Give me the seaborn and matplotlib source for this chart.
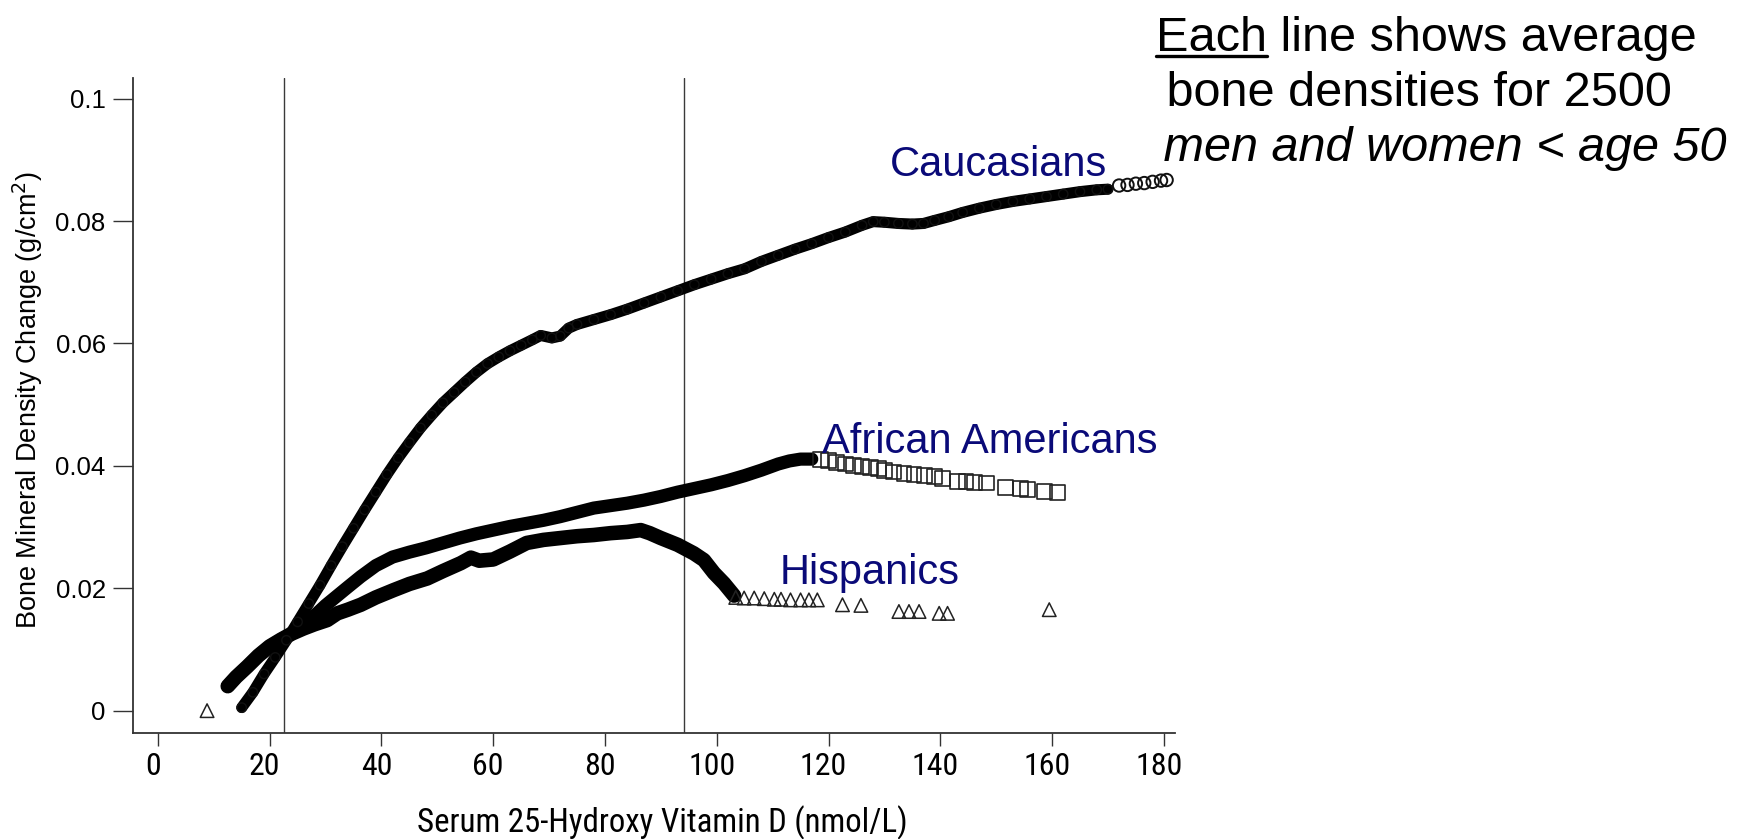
import os
import matplotlib
matplotlib.use("Agg")
import matplotlib.pyplot as plt
from matplotlib import font_manager
from matplotlib.font_manager import FontProperties
from matplotlib.lines import Line2D
from matplotlib.transforms import ScaledTranslation
import seaborn as sns

# ---------------- data ----------------
# Caucasians: continuous band of circles
cauc_x = [15, 17, 19, 21, 23, 25, 27, 29, 31, 33, 35, 37, 39, 41, 43, 45, 47, 49,
          51, 53, 55, 57, 59, 61, 63, 65, 67, 68.5, 70.5, 72, 73.5, 75, 78, 81, 84,
          87, 90, 93, 96, 99, 102, 105, 108, 111, 114, 117, 120, 123, 126, 128,
          130, 132.5, 135, 137, 139, 141.5, 144, 147, 150, 153, 156, 159, 162,
          165, 168, 170]
cauc_y = [0.0005, 0.0030, 0.0060, 0.0087, 0.0115, 0.0145, 0.0175, 0.0205, 0.0237,
          0.0268, 0.0298, 0.0328, 0.0357, 0.0386, 0.0413, 0.0438, 0.0462, 0.0483,
          0.0503, 0.0520, 0.0537, 0.0553, 0.0567, 0.0578, 0.0588, 0.0597, 0.0606,
          0.0613, 0.0609, 0.0612, 0.0625, 0.0631, 0.0639, 0.0647, 0.0656, 0.0666,
          0.0676, 0.0686, 0.0696, 0.0705, 0.0714, 0.0722, 0.0734, 0.0744, 0.0754,
          0.0763, 0.0773, 0.0782, 0.0793, 0.0799, 0.0798, 0.0796, 0.0795, 0.0796,
          0.0801, 0.0807, 0.0814, 0.0821, 0.0827, 0.0832, 0.0836, 0.0840, 0.0844,
          0.0848, 0.0851, 0.0852]
# Caucasians: separate circles at the top end
cauc_tail_x = [172, 173.5, 175, 176.5, 178, 179.5, 180.5]
cauc_tail_y = [0.0858, 0.0859, 0.0861, 0.0862, 0.0864, 0.0866, 0.0867]

# African Americans: continuous band of squares
afam_x = [12.5, 14, 16, 18, 20, 22, 24, 26, 28, 30, 32, 34, 36.3, 39, 42, 45, 48,
          51, 54, 57, 60, 63, 66, 69, 72, 75, 78, 81, 84, 87, 90, 93, 96, 99, 102,
          105, 108, 111, 113, 115, 117]
afam_y = [0.0040, 0.0055, 0.0072, 0.0090, 0.0105, 0.0116, 0.0126, 0.0138, 0.0155,
          0.0172, 0.0187, 0.0202, 0.0219, 0.0237, 0.0251, 0.0259, 0.0266, 0.0274,
          0.0282, 0.0289, 0.0295, 0.0301, 0.0306, 0.0311, 0.0317, 0.0324, 0.0331,
          0.0335, 0.0339, 0.0344, 0.0350, 0.0357, 0.0363, 0.0369, 0.0376, 0.0384,
          0.0393, 0.0403, 0.0408, 0.0411, 0.0411]
# African Americans: separate squares at the top end
afam_tail_x = [118.5, 120, 121.5, 123, 124.5, 126, 127.5, 129, 130.0, 131.7, 133.5,
               135.3, 137.1, 138.9, 140.4, 143.1, 144.6, 146.1, 148.2, 151.7, 154.4,
               155.6, 158.6, 161.0]
afam_tail_y = [0.0410, 0.0408, 0.0405, 0.0403, 0.0401, 0.0399, 0.0397, 0.0395,
               0.0392, 0.0390, 0.0388, 0.0386, 0.0384, 0.0382, 0.0380, 0.0375,
               0.0374, 0.0373, 0.0372, 0.0364, 0.0363, 0.0362, 0.0358, 0.0356]

# Hispanics: continuous band of triangles
hisp_x = [12.5, 14, 16, 18, 20, 22, 24, 26, 28, 30.3, 32.1, 34, 36.3, 39, 42.2, 45,
          48.2, 51, 54.2, 56, 57.5, 60, 63, 66, 69, 72, 75, 78, 81, 84, 86.4, 88,
          90, 93, 95.9, 97.7, 99.5, 101.3, 103.1]
hisp_y = [0.0040, 0.0055, 0.0072, 0.0090, 0.0105, 0.0116, 0.0126, 0.0134, 0.0141,
          0.0148, 0.0159, 0.0165, 0.0173, 0.0185, 0.0197, 0.0207, 0.0216, 0.0228,
          0.0241, 0.0250, 0.0245, 0.0247, 0.0260, 0.0274, 0.0279, 0.0282, 0.0285,
          0.0287, 0.0290, 0.0292, 0.0295, 0.0290, 0.0282, 0.0271, 0.0257, 0.0246,
          0.0225, 0.0208, 0.0188]
# Hispanics: separate triangles at both ends
hisp_tail_x = [8.8, 103.4, 104.9, 106.7, 108.5, 110.3, 111.5, 113.2, 115.0, 116.5,
               118.0, 122.5, 125.8, 132.6, 134.4, 136.2, 139.8, 141.3, 159.5]
hisp_tail_y = [0.0000, 0.0185, 0.0184, 0.0184, 0.0183, 0.0182, 0.0182, 0.0181,
               0.0181, 0.0181, 0.0181, 0.0173, 0.0172, 0.0162, 0.0162, 0.0162,
               0.0159, 0.0159, 0.0165]

cutoffs = [22.5, 94.2]

x_ticks = [0, 20, 40, 60, 80, 100, 120, 140, 160, 180]
y_ticks = [0, 0.02, 0.04, 0.06, 0.08, 0.1]
y_tick_labels = ["0", "0.02", "0.04", "0.06", "0.08", "0.1"]

group_labels = ["Caucasians", "African Americans", "Hispanics"]
note_lines = ["Each", " line shows average", " bone densities for 2500",
              " men and women < age 50"]


def condensed_font_file():
    """Return the path of a regular condensed sans-serif face, if one exists."""
    files = {os.path.basename(f.fname): f.fname for f in font_manager.fontManager.ttflist}
    for base in ["LiberationSansNarrow-Regular.ttf", "RobotoCondensed-Regular.ttf",
                 "Roboto-Condensed.ttf", "NotoSans-Condensed.ttf",
                 "OpenSans_Condensed-Regular.ttf", "OpenSans-CondensedRegular.ttf",
                 "DejaVuSansCondensed.ttf"]:
        if base in files:
            return files[base]
    skip = ("bold", "italic", "oblique", "light", "thin", "black", "medium", "semi",
            "extra", "ultra", "heavy")
    for base, path in sorted(files.items()):
        low = base.lower()
        if ("condensed" in low or "narrow" in low) and not any(s in low for s in skip):
            return path
    return None


# ---------------- style ----------------
sns.set_style("ticks")
plt.rcParams["font.family"] = ["Liberation Sans", "DejaVu Sans"]
for key in ("text.color", "axes.labelcolor", "xtick.labelcolor", "ytick.labelcolor"):
    plt.rcParams[key] = "black"

cond_path = condensed_font_file()


def cond_props(size):
    if cond_path:
        return FontProperties(fname=cond_path, size=size)
    return FontProperties(family="Liberation Sans", size=size)


W, H, DPI = 1742, 839, 100
fig = plt.figure(figsize=(W / DPI, H / DPI), dpi=DPI)
fig.patch.set_facecolor("white")

ax_l, ax_r, ax_t, ax_b = 133.3, 1175, 77.8, 733.3
ax = fig.add_axes([ax_l / W, 1 - ax_b / H, (ax_r - ax_l) / W, (ax_b - ax_t) / H])
ax.set_facecolor("white")

band = dict(color="black", estimator=None, sort=False, legend=False, ax=ax,
            solid_capstyle="round", solid_joinstyle="round")
sns.lineplot(x=cauc_x, y=cauc_y, lw=8.0, **band)
sns.lineplot(x=afam_x, y=afam_y, lw=9.5, **band)
sns.lineplot(x=hisp_x, y=hisp_y, lw=10.5, **band)

mk = dict(facecolor="none", legend=False, ax=ax, zorder=3)
# circles inside the band stay within its width; the loose ones at the end are larger
sns.scatterplot(x=cauc_x, y=cauc_y, marker="o", s=45,
                edgecolor="#111111", linewidth=1.0, **mk)
sns.scatterplot(x=cauc_tail_x, y=cauc_tail_y, marker="o", s=80,
                edgecolor="#111111", linewidth=1.4, **mk)
sns.scatterplot(x=afam_tail_x, y=afam_tail_y, marker="s", s=115,
                edgecolor="#222222", linewidth=1.2, **mk)
sns.scatterplot(x=hisp_tail_x, y=hisp_tail_y, marker="^", s=95,
                edgecolor="#222222", linewidth=1.1, **mk)

for c in cutoffs:
    ax.axvline(c, color="#3a3a3a", lw=1.0, zorder=1)

ax.set_xlim(-4.4, 182.0)
ax.set_ylim(-0.0037, 0.1034)
ax.set_xticks(x_ticks)
ax.set_yticks(y_ticks)
ax.set_yticklabels(y_tick_labels, fontsize=18.5)
ax.tick_params(axis="y", length=14.4, width=1.0, color="#333333", pad=5.5)
ax.tick_params(axis="x", length=9.4, width=1.0, color="#333333", pad=4.0)
ax.set_xlabel("")
ax.set_ylabel("")
sns.despine(ax=ax)
for side in ("left", "bottom"):
    ax.spines[side].set_color("#333333")
    ax.spines[side].set_linewidth(1.3)

# axis titles
fig.text(27.8 / W, 1 - 400 / H, "Bone Mineral Density Change (g/cm$^2$)",
         rotation=90, ha="center", va="center", fontsize=19.5)
xlab = fig.text(662 / W, 1 - 823 / H, "Serum 25-Hydroxy Vitamin D (nmol/L)",
                ha="center", va="center", fontproperties=cond_props(22))
fig.canvas.draw()
width_now = xlab.get_window_extent(fig.canvas.get_renderer()).width
cond_size = 22 * 490.0 / width_now
xlab.set_fontproperties(cond_props(cond_size))

ax.set_xticklabels([str(v) for v in x_ticks], fontproperties=cond_props(cond_size * 0.97))
shift = ScaledTranslation(-5 / DPI, 0, fig.dpi_scale_trans)
for lab in ax.get_xticklabels():
    lab.set_transform(lab.get_transform() + shift)

# group names
navy = "#0a0a78"
ax.text(131.0, 0.0874, group_labels[0], color=navy, fontsize=30, ha="left", va="baseline")
ax.text(118.9, 0.0421, group_labels[1], color=navy, fontsize=30, ha="left", va="baseline")
ax.text(111.2, 0.0207, group_labels[2], color=navy, fontsize=30, ha="left", va="baseline")

# note in the upper right
fs_note = 35
t_each = fig.text(1155.5 / W, 1 - 51 / H, note_lines[0], fontsize=fs_note,
                  ha="left", va="baseline", color="black")
fig.canvas.draw()
bb = t_each.get_window_extent(fig.canvas.get_renderer())
fig.text(bb.x1 / W, 1 - 51 / H, note_lines[1], fontsize=fs_note, ha="left",
         va="baseline", color="black")
fig.text(1153 / W, 1 - 106 / H, note_lines[2], fontsize=fs_note, ha="left",
         va="baseline", color="black")
fig.text(1150 / W, 1 - 161 / H, note_lines[3], fontsize=fs_note, ha="left",
         va="baseline", style="italic", color="black")
uy = 1 - 56 / H
fig.add_artist(Line2D([bb.x0 / W, bb.x1 / W], [uy, uy], transform=fig.transFigure,
                      color="black", lw=2.4))

fig.savefig("out.png", dpi=DPI, facecolor="white")
